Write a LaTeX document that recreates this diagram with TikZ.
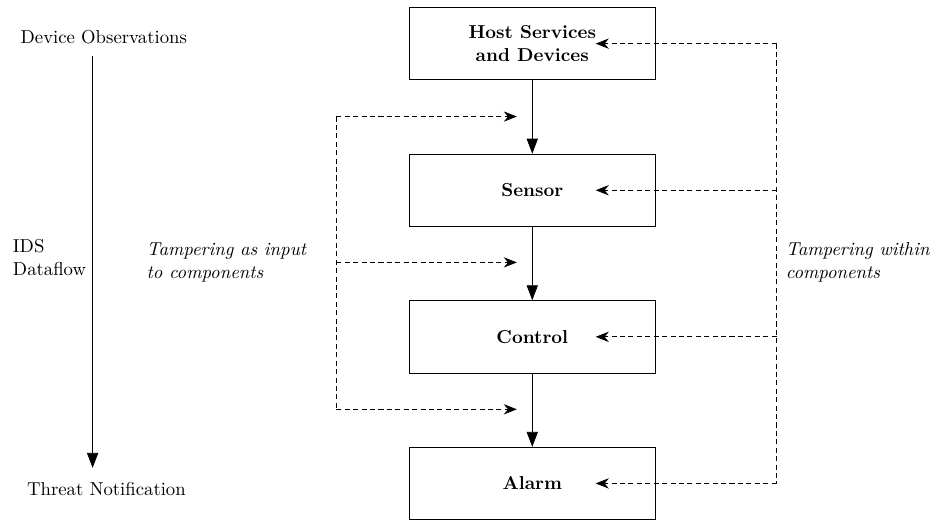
\documentclass[tikz,border=0pt]{standalone}
\usetikzlibrary{arrows.meta,positioning}

\begin{document}
\begin{tikzpicture}[
    comp/.style={draw,minimum width=4.61cm,minimum height=1.36cm,align=center,font=\bfseries},
    flow/.style={-{Triangle[length=8pt,width=6pt]}},
    tamper/.style={dash pattern=on 2.7pt off 1.8pt},
    tamperarrow/.style={tamper,-{Stealth[length=7pt,width=5.5pt]}},
    note/.style={align=left,font=\itshape,anchor=west}]
\useasboundingbox (0,0) rectangle (17.66,-9.79);

% components
\node[comp] (host) at (10,-0.82) {Host Services\\and Devices};
\node[comp,below=1.38cm of host] (sensor) {Sensor};
\node[comp,below=1.38cm of sensor] (control) {Control};
\node[comp,below=1.38cm of control] (alarm) {Alarm};

\draw[flow] (host) -- (sensor);
\draw[flow] (sensor) -- (control);
\draw[flow] (control) -- (alarm);

% dataflow direction
\node (obs) at (1.95,-0.69) {Device Observations};
\node (threat) at (2.0,-9.19) {Threat Notification};
\draw[flow] (1.74,-1.05) -- (1.74,-8.79);
\node[align=left,anchor=west] (ids) at (0.12,-4.84) {IDS\\Dataflow};

% tampering as input
\coordinate (li1) at (6.32,-2.19);
\coordinate (li2) at (6.32,-4.93);
\coordinate (li3) at (6.32,-7.69);
\coordinate (ti1) at (9.71,-2.19);
\coordinate (ti2) at (9.71,-4.93);
\coordinate (ti3) at (9.71,-7.69);
\draw[tamper] (li1) -- (li3);
\foreach \i in {1,2,3}
  \draw[tamperarrow] (li\i) -- (ti\i);
\node[note] (tin) at (2.63,-4.93) {Tampering as input\\to components};

% tampering within
\coordinate (rhost) at (14.59,-0.82);
\coordinate (rsensor) at (rhost |- sensor);
\coordinate (rcontrol) at (rhost |- control);
\coordinate (ralarm) at (rhost |- alarm);
\draw[tamper] (rhost) -- (ralarm);
\foreach \c in {host,sensor,control,alarm}
  \draw[tamperarrow] (r\c) -- ([xshift=-1.12cm]\c.east);
\node[note] (twithin) at (14.64,-4.93) {Tampering within\\components};

\end{tikzpicture}
\end{document}
